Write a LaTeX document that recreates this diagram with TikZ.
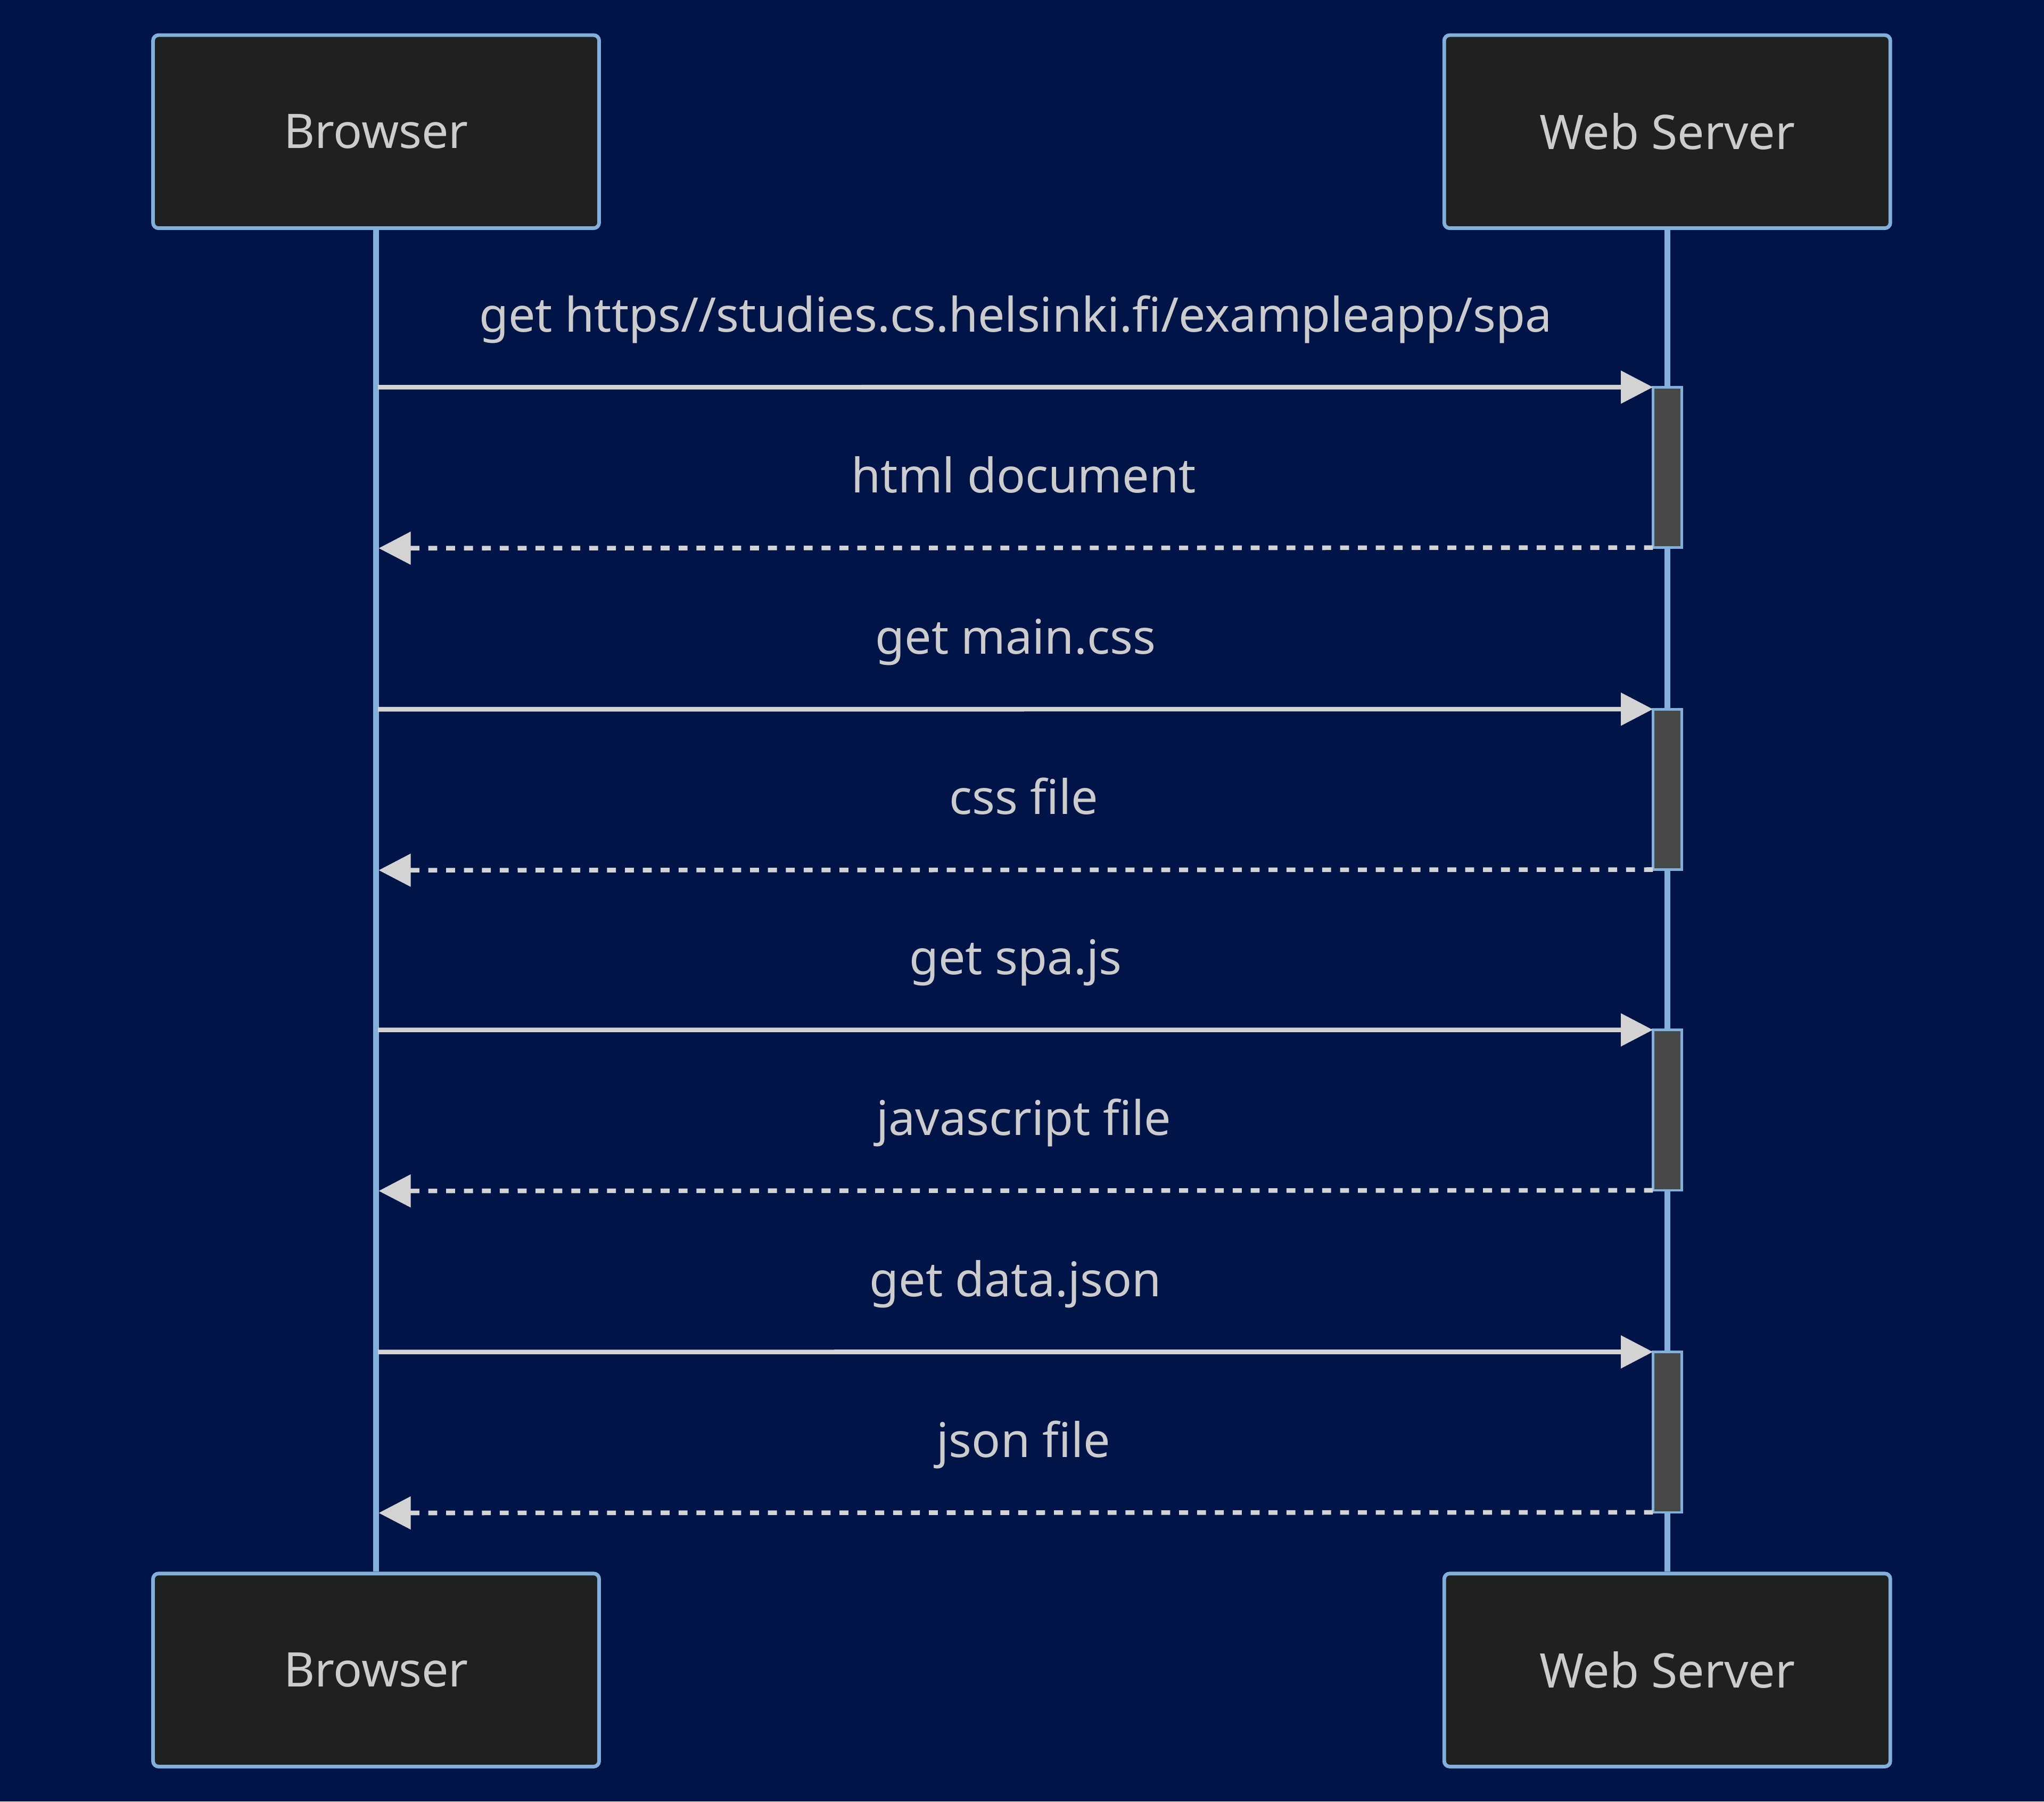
\documentclass[tikz,border=0pt]{standalone}
\usepackage{fontspec}
\setmainfont{Noto Sans}
\usetikzlibrary{arrows.meta}

\definecolor{bg}{HTML}{001447}
\definecolor{actorfill}{HTML}{1F2020}
\definecolor{actorline}{HTML}{81B1DB}
\definecolor{msgline}{HTML}{D3D3D3}
\definecolor{txt}{HTML}{CCCCCC}
\definecolor{actfill}{HTML}{474949}

\begin{document}
\begin{tikzpicture}[x=0.01cm,y=-0.01cm,
    actor/.style={draw=actorline,fill=actorfill,line width=0.8pt,rounded corners=1.2pt,
        minimum width=3.42cm,minimum height=1.48cm,text=txt,font=\fontsize{10.4}{12}\selectfont},
    life/.style={draw=actorline,line width=1.3pt},
    act/.style={draw=actorline,fill=actfill,line width=0.55pt,minimum width=0.22cm,
        minimum height=1.23cm,inner sep=0pt,outer sep=0pt},
    msg/.style={draw=msgline,line width=1pt,-{Triangle[length=7pt,width=7pt]}},
    ret/.style={msg,dash pattern=on 1.95pt off 1.95pt},
    lbl/.style={text=txt,font=\fontsize{10.4}{12}\selectfont,midway,anchor=base,yshift=0.425cm},
    rlbl/.style={lbl,xshift=0.06cm}]
    \fill[bg] (0,0) rectangle (1568,1382);
    \useasboundingbox (0,0) rectangle (1568,1382);

    \node[actor] (B) at (288.5,101) {Browser};
    \node[actor] (W) at (1279,101) {Web Server};
    \node[actor] (B2) at (288.5,1281) {Browser};
    \node[actor] (W2) at (1279,1281) {Web Server};

    \path[life] (B) -- (B2);
    \path[life] (W) -- (W2);

    \node[act] (a1) at (1279,358.5) {};
    \node[act] (a2) at (1279,605.5) {};
    \node[act] (a3) at (1279,851.5) {};
    \node[act] (a4) at (1279,1098.5) {};

    \coordinate (m1) at (290,297);
    \coordinate (r1) at (290.5,420.5);
    \coordinate (m2) at (290,544);
    \coordinate (r2) at (290.5,667.5);
    \coordinate (m3) at (290,790);
    \coordinate (r3) at (290.5,913.5);
    \coordinate (m4) at (290,1037);
    \coordinate (r4) at (290.5,1160.5);

    \draw[msg] (m1) -- node[lbl] {get https//studies.cs.helsinki.fi/exampleapp/spa} (a1.north west);
    \draw[ret] (a1.south west) -- node[rlbl] {html document} (r1);
    \draw[msg] (m2) -- node[lbl] {get main.css} (a2.north west);
    \draw[ret] (a2.south west) -- node[rlbl] {css file} (r2);
    \draw[msg] (m3) -- node[lbl] {get spa.js} (a3.north west);
    \draw[ret] (a3.south west) -- node[rlbl] {javascript file} (r3);
    \draw[msg] (m4) -- node[lbl] {get data.json} (a4.north west);
    \draw[ret] (a4.south west) -- node[rlbl] {json file} (r4);
\end{tikzpicture}
\end{document}
